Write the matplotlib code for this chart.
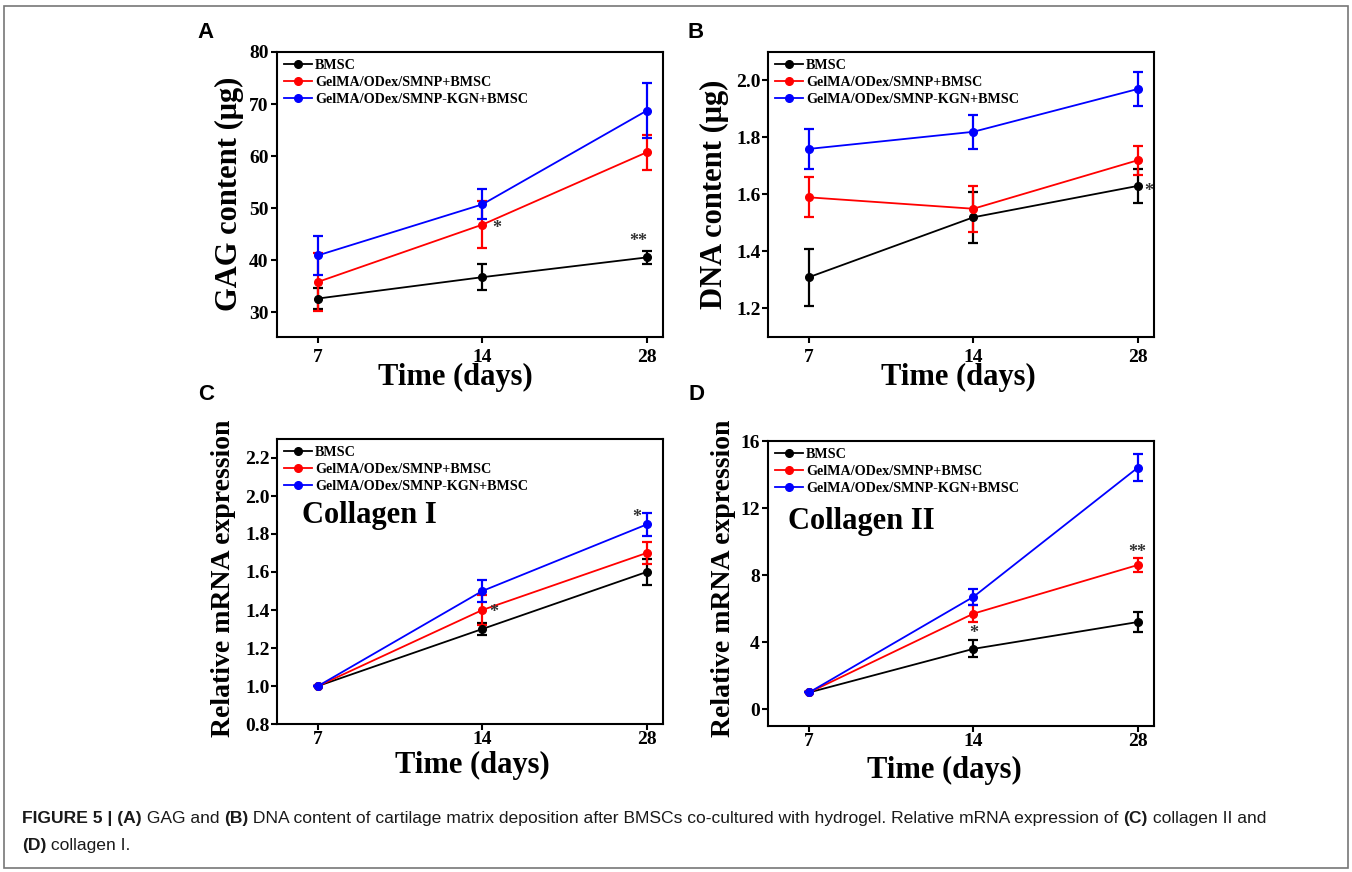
import matplotlib
matplotlib.use("Agg")
import matplotlib.pyplot as plt
from matplotlib.lines import Line2D
from matplotlib.patches import Rectangle

W, H = 1352, 872

days = ["7", "14", "28"]
groups = ["BMSC", "GelMA/ODex/SMNP+BMSC", "GelMA/ODex/SMNP-KGN+BMSC"]
colors = ["black", "#ff0000", "#0000ff"]

# GAG content (ug)
gag_mean = [[32.6, 36.7, 40.5], [35.8, 46.8, 60.7], [40.9, 50.7, 68.7]]
gag_err = [[2.0, 2.5, 1.3], [5.6, 4.5, 3.3], [3.7, 2.9, 5.3]]

# DNA content (ug)
dna_mean = [[1.31, 1.52, 1.63], [1.59, 1.55, 1.72], [1.76, 1.82, 1.97]]
dna_err = [[0.10, 0.09, 0.06], [0.07, 0.08, 0.05], [0.07, 0.06, 0.06]]

# Collagen I relative mRNA
col1_mean = [[1.0, 1.30, 1.60], [1.0, 1.40, 1.70], [1.0, 1.50, 1.85]]
col1_err = [[0.0, 0.03, 0.07], [0.0, 0.08, 0.06], [0.0, 0.06, 0.06]]

# Collagen II relative mRNA
col2_mean = [[1.0, 3.6, 5.2], [1.0, 5.7, 8.6], [1.0, 6.7, 14.4]]
col2_err = [[0.0, 0.5, 0.6], [0.0, 0.5, 0.4], [0.0, 0.5, 0.8]]

SERIF = "Liberation Serif"
SANS = "Liberation Sans"


def fx(x):
    return x / W


def fy(y):
    return 1 - y / H


def make_axes(left, top, right, bottom):
    return fig.add_axes([fx(left), fy(bottom), (right - left) / W, (bottom - top) / H])


def panel(ax, means, errs, ylim, yticks, yfmt, xpad, ypad):
    x = range(len(days))
    for m, e, c in zip(means, errs, colors):
        ax.errorbar(x, m, yerr=e, color=c, lw=1.3, marker="o", ms=5.5,
                    elinewidth=1.6, capsize=3.5, capthick=1.6)
    ax.set_xlim(-0.25, 2.1)
    ax.set_ylim(*ylim)
    ax.set_xticks(list(x))
    ax.set_xticklabels(days)
    ax.set_yticks(yticks)
    ax.set_yticklabels([yfmt.format(v) for v in yticks])
    for s in ax.spines.values():
        s.set_linewidth(1.5)
    ax.tick_params(direction="out", length=4, width=1.5)
    ax.tick_params(axis="x", pad=xpad)
    ax.tick_params(axis="y", pad=ypad)
    for lab in ax.get_xticklabels() + ax.get_yticklabels():
        lab.set_fontfamily(SERIF)
        lab.set_fontweight("bold")
        lab.set_fontsize(14)
    handles = [Line2D([], [], color=c, lw=1.3, marker="o", ms=5.5) for c in colors]
    ax.legend(handles, groups, loc="upper left", bbox_to_anchor=(0.0, 1.0),
              frameon=False, handlelength=2.0, handletextpad=0.2,
              labelspacing=0.28, borderaxespad=0.3, borderpad=0.2,
              prop={"family": SERIF, "weight": "bold", "size": 10.2})


def star(ax, x, y, s):
    ax.text(x, y, s, ha="center", va="center", fontsize=13, color="#333333",
            fontfamily=SERIF, fontweight="bold")


fig = plt.figure(figsize=(W / 100, H / 100), dpi=100)

# outer frame
fig.patches.append(Rectangle((fx(4), fy(868)), (1344) / W, (862) / H,
                             transform=fig.transFigure, fill=False,
                             edgecolor="#777777", lw=1.2))

axA = make_axes(277, 52, 663, 337)
panel(axA, gag_mean, gag_err, (25.2, 80), [30, 40, 50, 60, 70, 80], "{:.0f}", 5, 2)
star(axA, 1.09, 46.0, "*")
star(axA, 1.95, 43.6, "**")

axB = make_axes(768, 52, 1154, 337)
panel(axB, dna_mean, dna_err, (1.1, 2.1), [1.2, 1.4, 1.6, 1.8, 2.0], "{:.1f}", 5, 1)
star(axB, 2.07, 1.61, "*")

axC = make_axes(277, 439, 663, 724)
panel(axC, col1_mean, col1_err, (0.8, 2.3), [0.8, 1.0, 1.2, 1.4, 1.6, 1.8, 2.0, 2.2],
      "{:.1f}", 1, 1)
star(axC, 1.07, 1.385, "*")
star(axC, 1.94, 1.885, "*")

axD = make_axes(768, 441, 1154, 726)
panel(axD, col2_mean, col2_err, (-1.0, 16), [0, 4, 8, 12, 16], "{:.0f}", 1, 2)
star(axD, 1.0, 4.5, "*")
star(axD, 2.0, 9.35, "**")

# axis titles
lab = dict(fontfamily=SERIF, fontweight="bold", ha="center", va="center")
fig.text(fx(229), fy(194), "GAG content (\u03bcg)", rotation=90, fontsize=22, **lab)
fig.text(fx(714), fy(194), "DNA content (\u03bcg)", rotation=90, fontsize=22, **lab)
fig.text(fx(223), fy(578), "Relative mRNA expression", rotation=90, fontsize=20, **lab)
fig.text(fx(723), fy(578), "Relative mRNA expression", rotation=90, fontsize=20, **lab)
fig.text(fx(455), fy(377), "Time (days)", fontsize=22, **lab)
fig.text(fx(958), fy(377), "Time (days)", fontsize=22, **lab)
fig.text(fx(472), fy(765), "Time (days)", fontsize=22, **lab)
fig.text(fx(944), fy(770), "Time (days)", fontsize=22, **lab)

fig.text(fx(302), fy(515), "Collagen I", fontsize=22, fontfamily=SERIF,
         fontweight="bold", ha="left", va="center")
fig.text(fx(788), fy(522), "Collagen II", fontsize=22, fontfamily=SERIF,
         fontweight="bold", ha="left", va="center")

# panel letters
for letter, (px, py) in zip("ABCD", [(206, 33), (696, 33), (206, 394), (696, 394)]):
    fig.text(fx(px), fy(py), letter, fontsize=16, fontfamily=SANS,
             fontweight="bold", ha="center", va="center")

# caption, pieced together so the bold bits line up
caption = [
    [("FIGURE 5 | (A)", True), (" GAG and ", False), ("(B)", True),
     (" DNA content of cartilage matrix deposition after BMSCs co-cultured with hydrogel. "
      "Relative mRNA expression of ", False), ("(C)", True), (" collagen II and", False)],
    [("(D)", True), (" collagen I.", False)],
]
renderer = fig.canvas.get_renderer()
for line, ypix in zip(caption, [818, 845]):
    xpix = 22
    for txt, bold in line:
        t = fig.text(fx(xpix), fy(ypix), txt, fontsize=12.6, fontfamily=SANS,
                     fontweight="bold" if bold else "normal", ha="left",
                     va="center", color="#1a1a1a")
        bb = t.get_window_extent(renderer)
        xpix += bb.width

fig.savefig("out.png", dpi=100)
